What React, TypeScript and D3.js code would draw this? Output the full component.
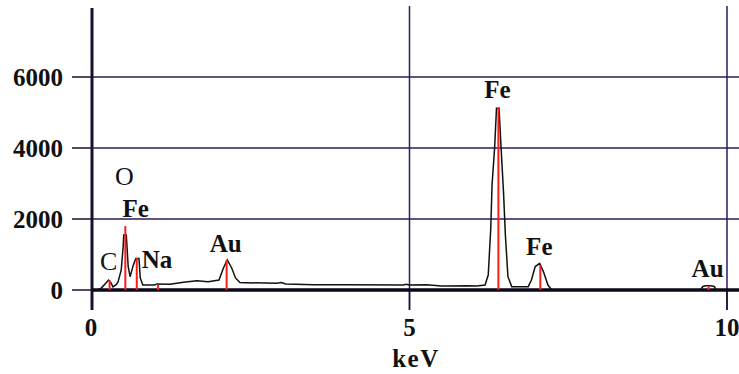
import React from 'react';
import * as d3 from 'd3';

// spectrum trace: energy (keV) / counts
const spectrumKeV = [
    0, 0.09, 0.15, 0.22, 0.26, 0.30, 0.33, 0.38, 0.41, 0.46, 0.49, 0.50, 0.54, 0.57, 0.60, 0.65, 0.69, 0.74, 0.76, 0.80,
    0.99, 1.02, 1.23, 1.44, 1.65, 1.83, 2.00, 2.07, 2.13, 2.20, 2.26, 2.33, 2.41, 2.91, 2.98, 3.05, 3.5, 4.0, 4.9, 4.95,
    5.0, 5.27, 5.5, 5.6, 5.9, 6.06, 6.19, 6.24, 6.28, 6.30, 6.34, 6.37, 6.41, 6.44, 6.48, 6.51, 6.55, 6.61, 6.87, 6.92,
    6.98, 7.05, 7.11, 7.18, 7.24, 9.58, 9.62, 9.66, 9.74, 9.80, 9.83, 10.19,
];
const spectrumCounts = [
    0, 0, 60, 200, 280, 200, 90, 150, 230, 560, 1200, 1550, 1550, 660, 375, 700, 890, 890, 340, 140,
    140, 170, 160, 215, 260, 235, 280, 620, 845, 620, 340, 210, 205, 190, 210, 170, 150, 145, 140, 160,
    140, 150, 110, 110, 120, 110, 140, 420, 1740, 2960, 3990, 5120, 5120, 4080, 2770, 1550, 375, 95, 95, 280,
    660, 750, 515, 140, 0, 0, 100, 120, 120, 100, 0, 0,
];

// element markers
const peakKeV = [0.277, 0.525, 0.705, 1.04, 2.12, 6.40, 7.06, 9.71];
const peakCounts = [280, 1800, 900, 140, 845, 5130, 700, 110];
const peakLabels = ['C', 'O', 'Fe', 'Na', 'Au', 'Fe', 'Fe', 'Au'];

const xTicks = [0, 5, 10];
const yTicks = [0, 2000, 4000, 6000];

const W = 739, H = 374;
const ink = '#1a0f33';
const gridColor = '#2e1d5c';
const font = '"Liberation Serif", "Times New Roman", serif';

// label baseline offset above each marker top, and weight
const labelDy = [-10, -41, -41, -17, -8, -10, -10, -9];
const labelBold = [false, false, true, true, true, true, true, true];

export default function App() {
    const x = d3.scaleLinear().domain([0, 10]).range([92, 727]);
    const y = d3.scaleLinear().domain([0, 8000]).range([290, 6]);

    const pts: [number, number][] = spectrumKeV.map((k, i) => [k, spectrumCounts[i]]);
    const line = d3.line<[number, number]>()
        .x(d => x(d[0]))
        .y(d => y(d[1]));

    const x0 = x(0), yBase = y(0);

    return (
        <div style={{ position: 'absolute', left: 0, top: 0 }}>
            <svg width={W} height={H} style={{ display: 'block', background: '#fff' }}>
                {/* horizontal grid */}
                {yTicks.filter(t => t > 0).map(t => (
                    <line key={'gy' + t} x1={x0} x2={W} y1={y(t)} y2={y(t)} stroke={gridColor} strokeWidth={1.5} />
                ))}
                {/* vertical grid */}
                {xTicks.filter(t => t > 0).map(t => (
                    <line key={'gx' + t} x1={x(t)} x2={x(t)} y1={y(8000)} y2={yBase + 20} stroke={gridColor} strokeWidth={1.5} />
                ))}
                {/* y ticks */}
                {yTicks.map(t => (
                    <g key={'ty' + t}>
                        <line x1={x0 - 20} x2={x0} y1={y(t)} y2={y(t)} stroke={ink} strokeWidth={1.5} />
                        <text x={63} y={y(t) + 8.5} textAnchor="end" fontFamily={font} fontWeight="bold" fontSize={25} fill="#111">{t}</text>
                    </g>
                ))}
                {/* x ticks */}
                {xTicks.map(t => (
                    <g key={'tx' + t}>
                        <line x1={x(t)} x2={x(t)} y1={yBase} y2={yBase + 20} stroke={ink} strokeWidth={1.5} />
                        <text x={x(t) - (t === 0 ? 1 : 0)} y={336} textAnchor="middle" fontFamily={font} fontWeight="bold" fontSize={25} fill="#111">{t}</text>
                    </g>
                ))}
                <text x={416} y={367} textAnchor="middle" fontFamily={font} fontWeight="bold" fontSize={25} letterSpacing={1.5} fill="#111">keV</text>

                {/* axes */}
                <line x1={x0} x2={x0} y1={y(8000) + 2} y2={yBase + 20} stroke={ink} strokeWidth={3} />
                <line x1={x0} x2={W} y1={yBase} y2={yBase} stroke="#0d0618" strokeWidth={3.5} />

                {/* spectrum */}
                <path d={line(pts) || ''} fill="none" stroke="#111" strokeWidth={1.5} />

                {/* element markers */}
                {peakKeV.map((k, i) => (
                    <line key={'p' + i} x1={x(k)} x2={x(k)} y1={yBase} y2={y(peakCounts[i])} stroke="#ff1a1a" strokeWidth={2} />
                ))}
                {peakKeV.map((k, i) => (
                    <text key={'l' + i} x={x(k) - 1} y={y(peakCounts[i]) + labelDy[i]} textAnchor="middle"
                        fontFamily={font} fontWeight={labelBold[i] ? 'bold' : 'normal'} fontSize={labelBold[i] ? 25 : 26} fill="#111">
                        {peakLabels[i]}
                    </text>
                ))}
            </svg>
        </div>
    );
}
